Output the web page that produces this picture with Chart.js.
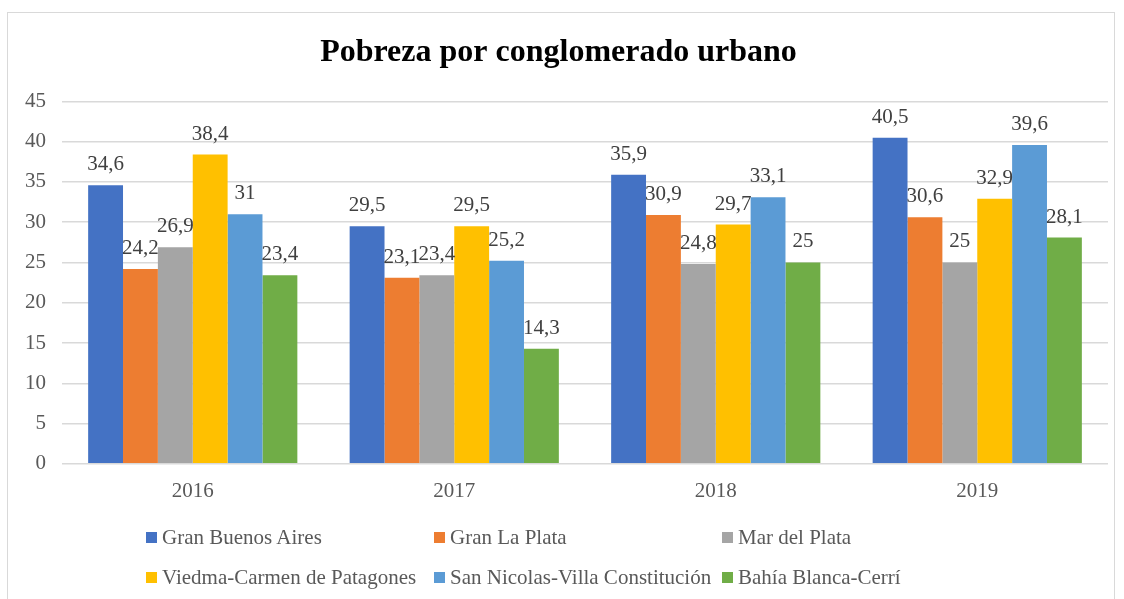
<!DOCTYPE html>
<html>
<head>
<meta charset="utf-8">
<script src="https://cdn.jsdelivr.net/npm/chart.js@4"></script>
<style>
  body { margin: 0; background: #fff; }
  #wrap { position: relative; width: 1124px; height: 599px; overflow: hidden; }
  #frame { position: absolute; left: 7px; top: 12px; width: 1108px; height: 700px; border: 1px solid #d9d9d9; box-sizing: border-box; }
  #myChart { position: absolute; left: 0; top: 0; }
  .lg { position: absolute; font-family: 'Liberation Serif', 'Times New Roman', serif; font-size: 21px; color: #595959; white-space: nowrap; line-height: 24px; }
  .lg span { display: inline-block; width: 11px; height: 11px; margin-right: 5px; vertical-align: 1px; }
</style>
</head>
<body>
<div id="wrap">
  <div id="frame"></div>
  <canvas id="myChart" width="1124" height="599"></canvas>
  <div id="legend"></div>
</div>
<script>
var years = ['2016', '2017', '2018', '2019'];
var seriesNames = ['Gran Buenos Aires', 'Gran La Plata', 'Mar del Plata', 'Viedma-Carmen de Patagones', 'San Nicolas-Villa Constitución', 'Bahía Blanca-Cerrí'];
var granBuenosAires = [34.6, 29.5, 35.9, 40.5];
var granLaPlata = [24.2, 23.1, 30.9, 30.6];
var marDelPlata = [26.9, 23.4, 24.8, 25];
var viedma = [38.4, 29.5, 29.7, 32.9];
var sanNicolas = [31, 25.2, 33.1, 39.6];
var bahiaBlanca = [23.4, 14.3, 25, 28.1];
var colors = ['#4472C4', '#ED7D31', '#A5A5A5', '#FFC000', '#5B9BD5', '#70AD47'];
var serif = "'Liberation Serif', 'Times New Roman', serif";

var values = [granBuenosAires, granLaPlata, marDelPlata, viedma, sanNicolas, bahiaBlanca];
var datasets = seriesNames.map(function (name, i) {
    return {
        label: name,
        data: values[i],
        backgroundColor: colors[i],
        borderWidth: 0,
        categoryPercentage: 0.8,
        barPercentage: 1.0
    };
});

// draws the numbers above each bar (comma decimals)
var valueLabels = {
    id: 'valueLabels',
    afterDatasetsDraw: function (chart) {
        var c = chart.ctx;
        c.save();
        c.font = '21px ' + serif;
        c.fillStyle = '#404040';
        c.textAlign = 'center';
        c.textBaseline = 'alphabetic';
        chart.data.datasets.forEach(function (ds, i) {
            chart.getDatasetMeta(i).data.forEach(function (bar, j) {
                c.fillText(String(ds.data[j]).replace('.', ','), bar.x, bar.y - 15);
            });
        });
        c.restore();
    }
};

var ctx = document.getElementById('myChart').getContext('2d');
var chart = new Chart(ctx, {
    type: 'bar',
    data: { labels: years, datasets: datasets },
    plugins: [valueLabels],
    options: {
        responsive: false,
        animation: false,
        layout: { padding: { left: 9, right: 16, top: 0, bottom: 88 } },
        plugins: {
            legend: { display: false },
            tooltip: { enabled: false },
            title: {
                display: true,
                text: 'Pobreza por conglomerado urbano',
                color: '#000',
                font: { family: serif, size: 32, weight: 'bold' },
                padding: { top: 34, bottom: 29 }
            }
        },
        scales: {
            x: {
                grid: { display: false },
                border: { display: false },
                ticks: { color: '#595959', font: { family: serif, size: 21 }, padding: 7 }
            },
            y: {
                min: 0,
                max: 45,
                ticks: { stepSize: 5, color: '#595959', font: { family: serif, size: 21 }, padding: 16 },
                grid: { color: '#d9d9d9', lineWidth: 1.5, drawTicks: false },
                border: { display: false }
            }
        }
    }
});

// legend in two rows of three, like the original
var legendPos = [[146, 525], [434, 525], [722, 525], [146, 565], [434, 565], [722, 565]];
var lg = document.getElementById('legend');
seriesNames.forEach(function (name, i) {
    var d = document.createElement('div');
    d.className = 'lg';
    d.style.left = legendPos[i][0] + 'px';
    d.style.top = legendPos[i][1] + 'px';
    d.innerHTML = '<span style="background:' + colors[i] + '"></span>' + name;
    lg.appendChild(d);
});
</script>
</body>
</html>
